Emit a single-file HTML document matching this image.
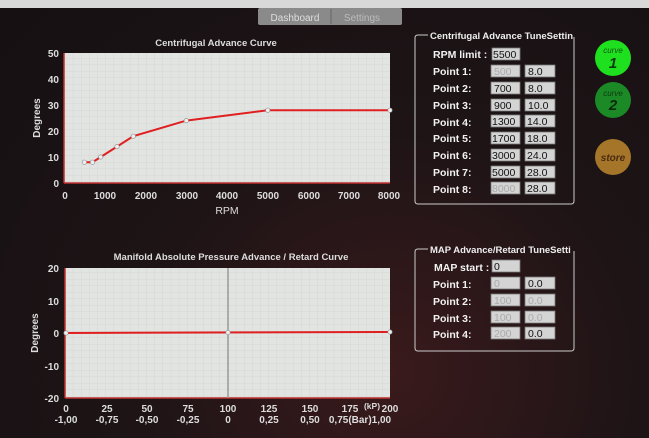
<!DOCTYPE html>
<html><head><meta charset="utf-8"><style>
body{margin:0;width:649px;height:438px;overflow:hidden;background:radial-gradient(ellipse at 60% 85%,#3a1a1c 0%,#1e1416 45%,#151012 100%);font-family:"Liberation Sans",sans-serif;}
svg{position:absolute;left:0;top:0}
</style></head><body>
<svg width="649" height="438" viewBox="0 0 649 438" font-family="Liberation Sans, sans-serif">
<defs>
<pattern id="g" width="8.15" height="6.5" patternUnits="userSpaceOnUse"><path d="M8.15 0V6.5M0 6.5H8.15" stroke="#c8cbc8" stroke-width="0.5" fill="none"/></pattern>
</defs>
<rect x="0" y="0" width="649" height="8" fill="#d8d8d8"/>
<rect x="258" y="8" width="144" height="17" rx="2" fill="#8a8a8a"/>
<line x1="331" y1="9" x2="331" y2="24" stroke="#666"/>
<text x="295" y="21" font-size="10" fill="#ddd" text-anchor="middle">Dashboard</text>
<text x="362" y="21" font-size="10" fill="#bbb" text-anchor="middle">Settings</text>

<text x="216" y="46" font-size="9.5" font-weight="bold" fill="#ddd" text-anchor="middle">Centrifugal Advance Curve</text>
<rect x="64" y="53" width="326" height="130" fill="#e2e4e2"/>
<rect x="64" y="53" width="326" height="130" fill="url(#g)"/>
<line x1="64" y1="53" x2="64" y2="183" stroke="#c03030" stroke-width="1.5"/>
<line x1="64" y1="183" x2="390" y2="183" stroke="#c03030" stroke-width="1.5"/>
<g font-size="10" font-weight="bold" fill="#ddd" text-anchor="end">
<text x="59" y="57">50</text><text x="59" y="83">40</text><text x="59" y="109">30</text><text x="59" y="135">20</text><text x="59" y="161">10</text><text x="59" y="187">0</text></g>
<g font-size="10" font-weight="bold" fill="#ddd" text-anchor="middle">
<text x="65" y="199">0</text><text x="105" y="199">1000</text><text x="146" y="199">2000</text><text x="187" y="199">3000</text><text x="227" y="199">4000</text><text x="268" y="199">5000</text><text x="309" y="199">6000</text><text x="349" y="199">7000</text><text x="389" y="199">8000</text>
<text x="227" y="214" font-size="10.5" font-weight="normal">RPM</text></g>
<text transform="translate(40,118) rotate(-90)" font-size="10" font-weight="bold" fill="#ddd" text-anchor="middle">Degrees</text>
<polyline points="84.4,162.2 92.5,162.2 100.7,157 117,146.6 133.3,136.2 186.3,120.6 267.8,110.2 390,110.2" fill="none" stroke="#e02020" stroke-width="2"/>
<g fill="#eee" stroke="#888" stroke-width="0.6">
<circle cx="84.4" cy="162.2" r="2.2"/><circle cx="92.5" cy="162.2" r="2.2"/><circle cx="100.7" cy="157" r="2.2"/><circle cx="117" cy="146.6" r="2.2"/><circle cx="133.3" cy="136.2" r="2.2"/><circle cx="186.3" cy="120.6" r="2.2"/><circle cx="267.8" cy="110.2" r="2.2"/><circle cx="390" cy="110.2" r="2.2"/></g>

<text x="231" y="260" font-size="9.5" font-weight="bold" fill="#ddd" text-anchor="middle">Manifold Absolute Pressure Advance / Retard Curve</text>
<rect x="65" y="268" width="325" height="130" fill="#e2e4e2"/>
<rect x="65" y="268" width="325" height="130" fill="url(#g)"/>
<line x1="65" y1="268" x2="65" y2="398" stroke="#c03030" stroke-width="1.5"/>
<line x1="65" y1="398" x2="390" y2="398" stroke="#c03030" stroke-width="1.5"/>
<line x1="228" y1="268" x2="228" y2="398" stroke="#999" stroke-width="1.5"/>
<g font-size="10" font-weight="bold" fill="#ddd" text-anchor="end">
<text x="59" y="272">20</text><text x="59" y="305">10</text><text x="59" y="337">0</text><text x="59" y="370">-10</text><text x="59" y="402">-20</text></g>
<g font-size="10" font-weight="bold" fill="#ddd" text-anchor="middle">
<text x="66" y="412">0</text><text x="107" y="412">25</text><text x="147" y="412">50</text><text x="188" y="412">75</text><text x="228" y="412">100</text><text x="269" y="412">125</text><text x="310" y="412">150</text><text x="350" y="412">175</text><text x="390" y="412">200</text>
<text x="66" y="423">-1,00</text><text x="107" y="423">-0,75</text><text x="147" y="423">-0,50</text><text x="188" y="423">-0,25</text><text x="228" y="423">0</text><text x="269" y="423">0,25</text><text x="310" y="423">0,50</text><text x="360" y="423">0,75(Bar)1,00</text>
<text x="372" y="409" font-size="8.5">(kP)</text></g>
<text transform="translate(38,333) rotate(-90)" font-size="10" font-weight="bold" fill="#ddd" text-anchor="middle">Degrees</text>
<line x1="65" y1="333" x2="390" y2="332" stroke="#e02020" stroke-width="2"/>
<g fill="#eee" stroke="#888" stroke-width="0.6"><circle cx="66" cy="333" r="2.2"/><circle cx="228" cy="332.5" r="2.2"/><circle cx="390" cy="332" r="2.2"/></g>

<g fill="none" stroke="#ccc" stroke-width="1">
<path d="M428 35 H418 Q415 35 415 38 V201 Q415 204 418 204 H571 Q574 204 574 201 V37"/>
<path d="M428 249 H418 Q415 249 415 252 V348 Q415 351 418 351 H571 Q574 351 574 348 V251"/>
</g>
<g font-size="9.5" font-weight="bold" fill="#eee">
<text x="430" y="39">Centrifugal Advance TuneSettin</text>
<text x="430" y="253">MAP Advance/Retard TuneSetti</text>
</g>
<g font-size="10.5" font-weight="bold" fill="#f2f2f2">
<text x="433" y="58">RPM limit :</text>
<text x="433" y="75">Point 1:</text><text x="433" y="92">Point 2:</text><text x="433" y="109">Point 3:</text><text x="433" y="126">Point 4:</text><text x="433" y="142">Point 5:</text><text x="433" y="159">Point 6:</text><text x="433" y="176">Point 7:</text><text x="433" y="193">Point 8:</text>
<text x="434" y="271">MAP start :</text>
<text x="433" y="288">Point 1:</text><text x="433" y="305">Point 2:</text><text x="433" y="322">Point 3:</text><text x="433" y="338">Point 4:</text>
</g>
<g stroke="#777" stroke-width="0.8" fill="#d4d4d4">
<rect x="492" y="48" width="28" height="12"/>
<rect x="491" y="65" width="29" height="12"/><rect x="525" y="65" width="30" height="12"/>
<rect x="491" y="82" width="29" height="12"/><rect x="525" y="82" width="30" height="12"/>
<rect x="491" y="99" width="29" height="12"/><rect x="525" y="99" width="30" height="12"/>
<rect x="491" y="115" width="29" height="12"/><rect x="525" y="115" width="30" height="12"/>
<rect x="491" y="132" width="29" height="12"/><rect x="525" y="132" width="30" height="12"/>
<rect x="491" y="149" width="29" height="12"/><rect x="525" y="149" width="30" height="12"/>
<rect x="491" y="166" width="29" height="12"/><rect x="525" y="166" width="30" height="12"/>
<rect x="491" y="182" width="29" height="12"/><rect x="525" y="182" width="30" height="12"/>
<rect x="492" y="260" width="28" height="12"/>
<rect x="491" y="277" width="29" height="12"/><rect x="525" y="277" width="30" height="12"/>
<rect x="491" y="294" width="29" height="12"/><rect x="525" y="294" width="30" height="12"/>
<rect x="491" y="311" width="29" height="12"/><rect x="525" y="311" width="30" height="12"/>
<rect x="491" y="327" width="29" height="12"/><rect x="525" y="327" width="30" height="12"/>
</g>
<g font-size="10.5" fill="#111">
<text x="493" y="58">5500</text>
<text x="494" y="75" fill="#aaa">500</text><text x="528" y="75">8.0</text>
<text x="494" y="92">700</text><text x="528" y="92">8.0</text>
<text x="494" y="109">900</text><text x="528" y="109">10.0</text>
<text x="492" y="125">1300</text><text x="527" y="125">14.0</text>
<text x="492" y="142">1700</text><text x="527" y="142">18.0</text>
<text x="492" y="159">3000</text><text x="527" y="159">24.0</text>
<text x="492" y="176">5000</text><text x="527" y="176">28.0</text>
<text x="492" y="192" fill="#aaa">8000</text><text x="527" y="192">28.0</text>
<text x="494" y="270">0</text>
<text x="494" y="287" fill="#aaa">0</text><text x="528" y="287">0.0</text>
<text x="494" y="304" fill="#aaa">100</text><text x="528" y="304" fill="#aaa">0.0</text>
<text x="494" y="321" fill="#aaa">100</text><text x="528" y="321" fill="#aaa">0.0</text>
<text x="494" y="337" fill="#aaa">200</text><text x="528" y="337">0.0</text>
</g>

<circle cx="613" cy="58" r="18" fill="#1fe01f"/>
<text x="613" y="53" font-size="8" font-style="italic" fill="#115511" text-anchor="middle">curve</text>
<text x="613" y="68" font-size="15" font-weight="bold" font-style="italic" fill="#0b3a0b" text-anchor="middle">1</text>
<circle cx="613" cy="100" r="18" fill="#1b8a26"/>
<text x="613" y="96" font-size="8" font-style="italic" fill="#0c3a10" text-anchor="middle">curve</text>
<text x="613" y="110" font-size="15" font-weight="bold" font-style="italic" fill="#0a2a0a" text-anchor="middle">2</text>
<circle cx="613" cy="157" r="18" fill="#a5762a"/>
<text x="613" y="161" font-size="10" font-weight="bold" font-style="italic" fill="#4a2a10" text-anchor="middle">store</text>
</svg>
</body></html>
